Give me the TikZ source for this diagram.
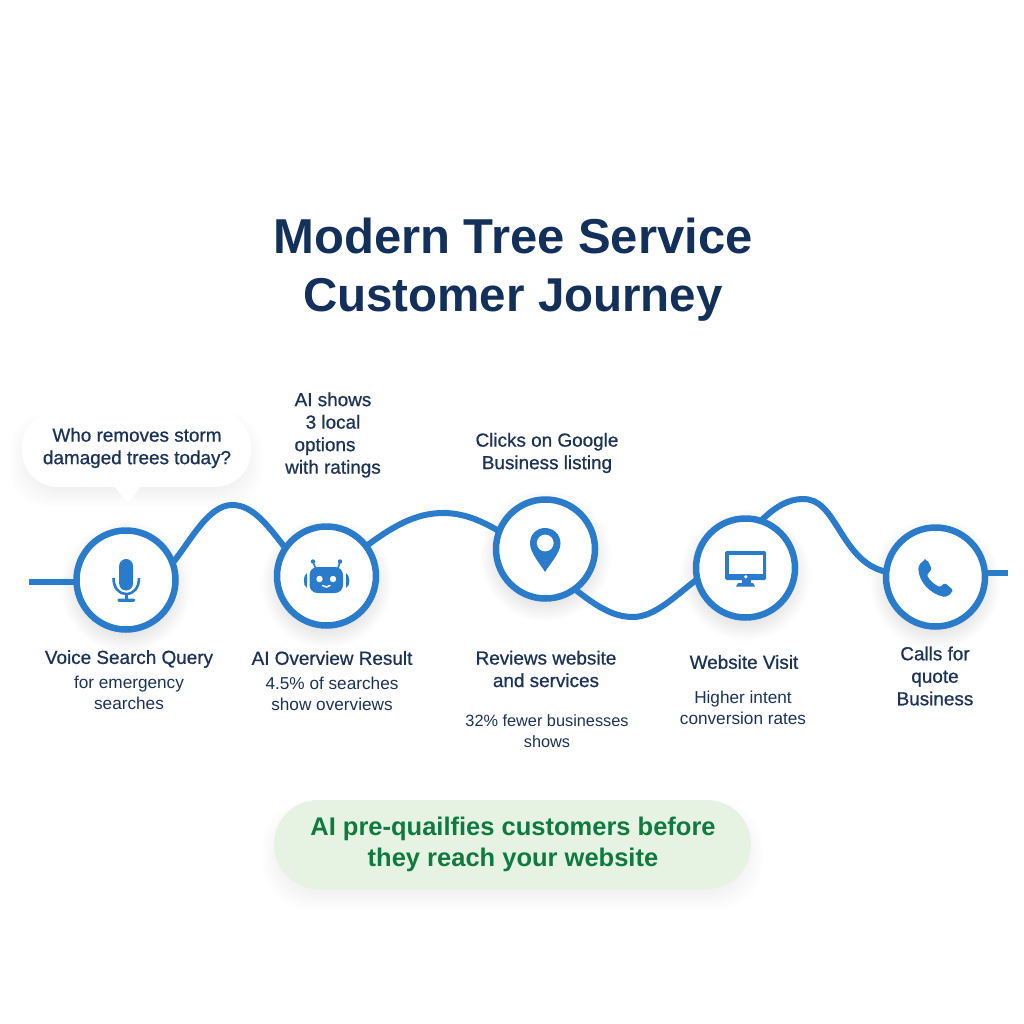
\documentclass[tikz,border=0pt]{standalone}
\usepackage{fontspec}
\setmainfont{Liberation Sans}
\newfontfamily\medf[FakeBold=0.8]{Liberation Sans}
\usetikzlibrary{backgrounds}
\definecolor{jblue}{HTML}{2B7BCB}
\definecolor{navy}{HTML}{12305A}
\definecolor{inkc}{HTML}{1C3357}
\definecolor{pillg}{HTML}{E6F3E2}
\definecolor{pilltxt}{HTML}{0F7A3F}
\newcommand{\softcircle}[3]{\foreach \i in {0,...,13}{\fill[black,opacity=0.006] (#1,#2+7) circle ({#3+13-\i*1.6});}}
\newcommand{\softbox}[5]{\foreach \i in {0,...,13}{\fill[black,opacity=0.005,rounded corners={#5}] ({#1-12+\i*1.4},{#2+2+\i*1.0}) rectangle ({#3+12-\i*1.4},{#4+20-\i*1.4});}}
\tikzset{
  stepcircle/.style={circle,draw=jblue,line width=6.5pt,fill=white,minimum size=99pt,inner sep=0pt,outer sep=0pt},
  track/.style={draw=jblue,line width=6pt},
  headl/.style={align=center,text=inkc,font=\medf\fontsize{18.9}{22.5}\selectfont},
  descl/.style={align=center,text=inkc,font=\fontsize{17.2}{21.5}\selectfont},
  titlel/.style={align=center,text=navy,font=\bfseries\fontsize{49}{58}\selectfont},
  icon/.style={fill=jblue,draw=none},
  iconw/.style={fill=white,draw=none}
}
\begin{document}
\begin{tikzpicture}[x=1pt,y=-1pt]
\useasboundingbox (0,0) rectangle (1024,1024);
\node[stepcircle] (n1) at (126,580) {};
\node[stepcircle] (n2) at (326.5,576) {};
\node[stepcircle] (n3) at (545.5,549) {};
\node[stepcircle] (n4) at (745.5,568) {};
\node[stepcircle] (n5) at (935.5,577) {};
\coordinate (startc) at (29,582);
\coordinate (endc) at (1008,573);
\begin{pgfonlayer}{background}
\fill[white] (0,0) rectangle (1024,1024);
\softcircle{126}{580}{52}\softcircle{326.5}{576}{52}\softcircle{545.5}{549}{52}\softcircle{745.5}{568}{52}\softcircle{935.5}{577}{52}
\softbox{22}{411}{251}{487}{36}
\softbox{274}{800}{751}{889}{44}
\path[track] (startc) -- (n1.west |- startc);
\path[track] (n1.20) .. controls (190,542) and (208,505) .. (232,505) .. controls (252,505) and (266,523) .. (n2.146);
\path[track] (n2.37) .. controls (392,527) and (415,513) .. (443,513) .. controls (463,513) and (480,520) .. (n3.159);
\path[track] (n3.-54) .. controls (595,605) and (612,617) .. (633,617) .. controls (655,617) and (675,596) .. (n4.193);
\path[track] (n4.72) .. controls (775,507) and (788,499) .. (803,499) .. controls (820,499) and (828,512) .. (840,531) .. controls (852,550) and (864,567) .. (n5.174.5);
\path[track] (n5.east |- endc) -- (endc);
\end{pgfonlayer}

% speech bubble
\path[fill=white,rounded corners=36] (22,411) rectangle (251,487);
\path[fill=white] (114,486) -- (128,504) -- (141,486) -- cycle;

% microphone
\fill[icon,rounded corners=6.9] (119.2,559) rectangle (133,590.5);
\draw[jblue,line width=2.6pt] (113.5,578) .. controls (113.5,588) and (119,594) .. (126.2,594) .. controls (133.5,594) and (139,588) .. (139,578);
\draw[jblue,line width=2.6pt] (126.2,594) -- (126.2,600);
\fill[icon,rounded corners=1.2] (117.5,598.5) rectangle (135,601.8);

% robot
\fill[icon,rounded corners=8] (309.5,567) rectangle (343,593);
\fill[iconw] (319.5,579) circle (3.2);
\fill[iconw] (333,579) circle (3.2);
\draw[white,line width=1.5pt,line cap=round] (322.5,585.5) .. controls (325,587.5) and (328,587.5) .. (330,585.5);
\draw[jblue,line width=1.6pt] (315.5,568) -- (313,562);
\draw[jblue,line width=1.6pt] (338,568) -- (340,562);
\fill[icon] (313,561.5) circle (2.2);
\fill[icon] (340,561.5) circle (2.2);
\fill[icon] (307,573) .. controls (303,575) and (302.5,586) .. (307,588) -- cycle;
\fill[icon] (346,573) .. controls (350,575) and (351,586) .. (346,588) -- cycle;

% pin
\fill[icon] (545,572) .. controls (541,565) and (530,553) .. (530,543.5) .. controls (530,534) and (537,528) .. (545,528) .. controls (553,528) and (560.5,534) .. (560.5,543.5) .. controls (560.5,553) and (549,565) .. (545,572) -- cycle;
\fill[iconw] (545.2,543) circle (8.4);

% monitor
\fill[icon,rounded corners=1.5] (725,551) rectangle (766,580);
\fill[iconw] (728.5,554.5) rectangle (763,573.5);
\fill[iconw] (745.8,576.8) circle (1.8);
\fill[icon] (741.5,580) rectangle (750.5,584);
\fill[icon] (738,583) -- (753,583) -- (755,586.5) -- (736,586.5) -- cycle;

% phone
\fill[icon,rounded corners=1.2] (925,560) -- (928,561) -- (931.7,569) -- (927,575) .. controls (929,580) and (935,585) .. (940,587) -- (945,583) -- (953,590) -- (950,594.5) -- (945,597) .. controls (930,594) and (919,582) .. (918.3,568) .. controls (919,565) and (921,562) .. (925,560) -- cycle;

% pill
\path[fill=pillg,rounded corners=44] (274,800) rectangle (751,889);

% texts
\node[titlel] (title) at (513,270) {Modern Tree Service\\{\fontsize{47.5}{58}\selectfont Customer Journey}};
\node[headl] (bubbletext) at (137,448) {Who removes storm\\damaged trees today?};
\node[headl] (t2top) at (333,435) {AI shows\\3 local\\\hspace*{-16pt}options\\with ratings};
\node[headl] (t3top) at (547,453) {Clicks on Google\\Business listing};
\node[headl] (h1) at (129,659) {Voice Search Query};
\node[descl] (d1) at (129,693) {for emergency\\searches};
\node[headl] (h2) at (332,658) {AI Overview Result};
\node[descl] (d2) at (332,694) {4.5\% of searches\\show overviews};
\node[headl] (h3) at (546,669) {Reviews website\\and services};
\node[descl,font=\fontsize{16.3}{21.5}\selectfont] (d3) at (547,731) {32\% fewer businesses\\shows};
\node[headl] (h4) at (744,662) {Website Visit};
\node[descl] (d4) at (743,708) {Higher intent\\conversion rates};
\node[headl] (h5) at (935,676) {Calls for\\quote\\Business};
\node[align=center,text=pilltxt,font=\bfseries\fontsize{25.5}{31}\selectfont] (pilltext) at (513,844.5) {AI pre-quailfies customers before\\they reach your website};
\end{tikzpicture}
\end{document}
